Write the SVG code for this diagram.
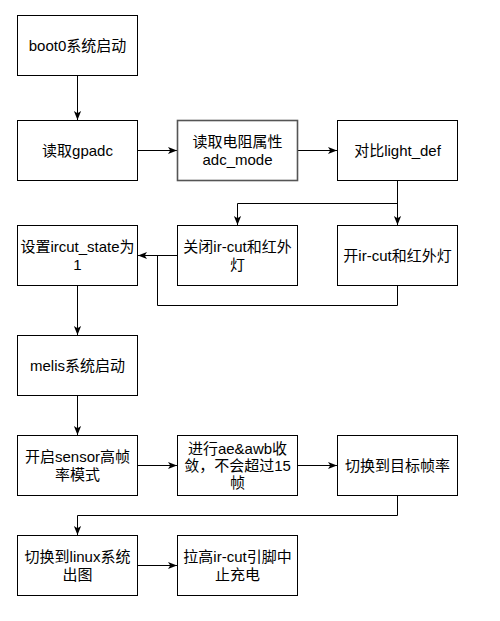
<svg xmlns="http://www.w3.org/2000/svg" width="500" height="621" viewBox="0 0 500 621">
<style>
.box{fill:#fff;stroke:#000;stroke-width:1}
.t{font-family:"Liberation Sans","Noto Sans CJK SC",sans-serif;font-size:15px;fill:#000;text-anchor:middle}
.e{fill:none;stroke:#000;stroke-width:1}
</style>
<defs>
<marker id="a" markerUnits="userSpaceOnUse" viewBox="0 0 10 10" markerWidth="9" markerHeight="9" refX="10" refY="5" orient="auto">
<path d="M0,1 L10,5 L0,9 L2.5,5 Z" fill="#000"/>
</marker>
</defs>
<rect width="500" height="621" fill="#fff"/>
<g id="edges">
<path class="e" d="M77.5,75.5 V120" marker-end="url(#a)"/>
<path class="e" d="M137.5,150.5 H177" marker-end="url(#a)"/>
<path class="e" d="M297.5,150.5 H337" marker-end="url(#a)"/>
<path class="e" d="M397.5,180.5 V225" marker-end="url(#a)"/>
<path class="e" d="M397.5,203.5 H237.5 V225" marker-end="url(#a)"/>
<path class="e" d="M177.5,255.5 H138" marker-end="url(#a)"/>
<path class="e" d="M397.5,285.5 V305.5 H157.5 V255.5"/>
<path class="e" d="M77.5,285.5 V335" marker-end="url(#a)"/>
<path class="e" d="M77.5,395.5 V435" marker-end="url(#a)"/>
<path class="e" d="M137.5,465.5 H177" marker-end="url(#a)"/>
<path class="e" d="M297.5,465.5 H337" marker-end="url(#a)"/>
<path class="e" d="M397.5,495.5 V515.5 H77.5 V535" marker-end="url(#a)"/>
<path class="e" d="M137.5,565.5 H177" marker-end="url(#a)"/>
</g>
<g id="n1"><rect class="box" x="17.5" y="15.5" width="120" height="60"/><text class="t" x="77.5" y="51">boot0系统启动</text></g>
<g id="n2"><rect class="box" x="17.5" y="120.5" width="120" height="60"/><text class="t" x="77.5" y="156">读取gpadc</text></g>
<g id="n3"><rect class="box" x="177.5" y="120.5" width="120" height="60" style="stroke:#555;stroke-width:1.6"/><text class="t" x="237.5" y="147">读取电阻属性</text><text class="t" x="237.5" y="165">adc_mode</text></g>
<g id="n4"><rect class="box" x="337.5" y="120.5" width="120" height="60"/><text class="t" x="397.5" y="156">对比light_def</text></g>
<g id="n5"><rect class="box" x="177.5" y="225.5" width="120" height="60"/><text class="t" x="237.5" y="252">关闭ir-cut和红外</text><text class="t" x="237.5" y="270">灯</text></g>
<g id="n6"><rect class="box" x="337.5" y="225.5" width="120" height="60"/><text class="t" x="397.5" y="261">开ir-cut和红外灯</text></g>
<g id="n7"><rect class="box" x="17.5" y="225.5" width="120" height="60"/><text class="t" x="77.5" y="252">设置ircut_state为</text><text class="t" x="77.5" y="270">1</text></g>
<g id="n8"><rect class="box" x="17.5" y="335.5" width="120" height="60"/><text class="t" x="77.5" y="371">melis系统启动</text></g>
<g id="n9"><rect class="box" x="17.5" y="435.5" width="120" height="60"/><text class="t" x="77.5" y="462">开启sensor高帧</text><text class="t" x="77.5" y="480">率模式</text></g>
<g id="n10"><rect class="box" x="177.5" y="435.5" width="120" height="60"/><text class="t" x="237.5" y="454">进行ae&amp;awb收</text><text class="t" x="237.5" y="471">敛，不会超过15</text><text class="t" x="237.5" y="488">帧</text></g>
<g id="n11"><rect class="box" x="337.5" y="435.5" width="120" height="60"/><text class="t" x="397.5" y="471">切换到目标帧率</text></g>
<g id="n12"><rect class="box" x="17.5" y="535.5" width="120" height="60"/><text class="t" x="77.5" y="562">切换到linux系统</text><text class="t" x="77.5" y="580">出图</text></g>
<g id="n13"><rect class="box" x="177.5" y="535.5" width="120" height="60"/><text class="t" x="237.5" y="562">拉高ir-cut引脚中</text><text class="t" x="237.5" y="580">止充电</text></g>
</svg>
